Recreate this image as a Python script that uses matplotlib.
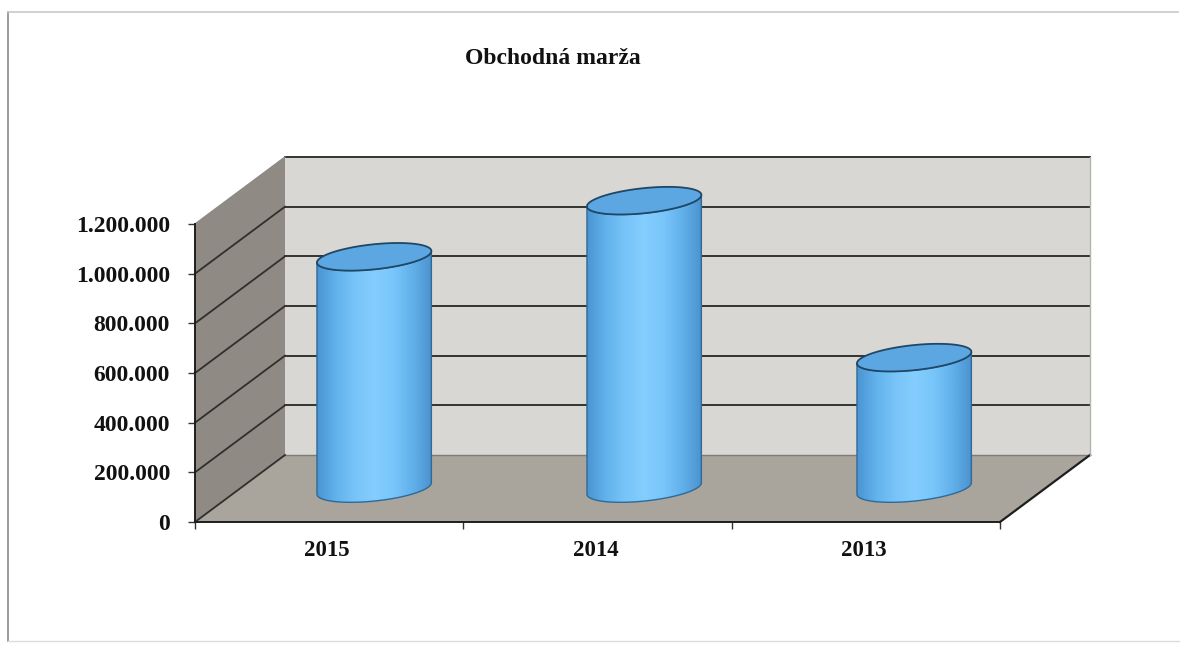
import numpy as np
import matplotlib
matplotlib.use("Agg")
import matplotlib.pyplot as plt
from matplotlib.patches import Polygon
from matplotlib.colors import LinearSegmentedColormap
from matplotlib.transforms import ScaledTranslation

categories = ["2015", "2014", "2013"]
values = [933000, 1159000, 527000]
tick_values = [0, 200000, 400000, 600000, 800000, 1000000, 1200000]
tick_labels = ["0", "200.000", "400.000", "600.000", "800.000", "1.000.000", "1.200.000"]
title = "Obchodná marža"

plt.rcParams["font.family"] = ["Liberation Serif", "DejaVu Serif"]
plt.rcParams["font.weight"] = "bold"

W, H = 1180, 645
fig = plt.figure(figsize=(W / 100, H / 100), dpi=100, facecolor="white")
ax = fig.add_axes([195 / W, (H - 522) / H, 805 / W, 298 / H])
ax.set_xlim(-0.5, 2.5)
ax.set_ylim(0, 1200000)
ax.patch.set_visible(False)

# pixel -> data scales
sx = 3 / 805
sy = 1200000 / 298
dx = 90 * sx
dy = 67 * sy
x0, x1 = -0.5, 2.5
ymax = tick_values[-1]

# page frame of the scan: dark left edge, faint top and bottom edges
fig.add_artist(plt.Line2D([8 / W, 8 / W], [(H - 641) / H, (H - 12) / H], color="#8a8a8a", lw=1.2))
fig.add_artist(plt.Line2D([8 / W, 1 - 2 / W], [(H - 12) / H, (H - 12) / H], color="#c8c8c8", lw=1.2))
fig.add_artist(plt.Line2D([8 / W, 1], [(H - 641) / H, (H - 641) / H], color="#dcdcdc", lw=1.0))

# walls
wall = "#d9d7d3"
side = "#8f8b84"
floor = "#a9a59d"
ax.add_patch(Polygon([(x0 + dx, dy), (x1 + dx, dy), (x1 + dx, ymax + dy), (x0 + dx, ymax + dy)],
                     fc=wall, ec="none", clip_on=False, zorder=1))
ax.add_patch(Polygon([(x0, 0), (x0 + dx, dy), (x0 + dx, ymax + dy), (x0, ymax)],
                     fc=side, ec="none", clip_on=False, zorder=1))
ax.add_patch(Polygon([(x0, 0), (x1, 0), (x1 + dx, dy), (x0 + dx, dy)],
                     fc=floor, ec="none", clip_on=False, zorder=1))

# gridlines
for tv in tick_values:
    top = tv == ymax
    ax.plot([x0 + dx, x1 + dx], [tv + dy, tv + dy], color="#7d7b76" if tv == 0 else "#33332f",
            lw=1.0 if tv == 0 else 1.4, clip_on=False, zorder=2)
    ax.plot([x0, x0 + dx], [tv, tv + dy], color="#8d8a84" if top else "#2f2f2c",
            lw=1.0 if top else 1.3, clip_on=False, zorder=2)
ax.plot([x1, x1 + dx], [0, dy], color="#1e1e1c", lw=1.6, clip_on=False, zorder=2)
ax.plot([x1 + dx, x1 + dx], [dy, ymax + dy], color="#b5b3ae", lw=1.0, clip_on=False, zorder=2)

# cylinders
a, b, th = 57.5, 12.5, np.radians(6)
spacing = 270 * sx
cmap = LinearSegmentedColormap.from_list(
    "cyl", ["#4a94d2", "#62b2ec", "#78c4f8", "#84cdff", "#78c6fa", "#62b0ea", "#4a92cf"])
t = np.linspace(0, 2 * np.pi, 241)


def ell(cx, cy, tt):
    ex = a * np.cos(tt) * np.cos(th) - b * np.sin(tt) * np.sin(th)
    ey = a * np.cos(tt) * np.sin(th) + b * np.sin(tt) * np.cos(th)
    return np.column_stack([cx + ex * sx, cy + ey * sy])


# angles of the leftmost / rightmost points of the tilted ellipse
tr = np.arctan2(-b * np.sin(th), a * np.cos(th))
lower = np.linspace(tr, tr - np.pi, 120)
ext = np.sqrt((a * np.cos(th)) ** 2 + (b * np.sin(th)) ** 2) * sx
for i, v in enumerate(values):
    cx = i * spacing + dx / 2
    base = dy / 2
    top = base + v
    body = np.vstack([ell(cx, top, lower), ell(cx, base, lower[::-1])])
    patch = Polygon(body, closed=True, fc="none", ec="#2f6a96", lw=1.0, clip_on=False, zorder=5)
    ax.add_patch(patch)
    im = ax.imshow(np.linspace(0, 1, 256).reshape(1, -1), cmap=cmap, aspect="auto", zorder=4,
                   extent=[cx - ext, cx + ext, base - 40 * sy, top + 40 * sy])
    im.set_clip_box(fig.bbox)
    im.set_clip_path(patch.get_path(), patch.get_transform())
    ax.add_patch(Polygon(ell(cx, top, t), closed=True, fc="#5ca7e2", ec="#1f4766", lw=1.3,
                         clip_on=False, zorder=6))

ax.set_xlim(-0.5, 2.5)
ax.set_ylim(0, 1200000)

# axes
for s in ("top", "right"):
    ax.spines[s].set_visible(False)
for s in ("left", "bottom"):
    ax.spines[s].set_color("#1e1e1c")
    ax.spines[s].set_linewidth(1.4)
    ax.spines[s].set_zorder(3)
ax.set_yticks(tick_values, tick_labels)
ax.set_xticks(range(len(categories)), categories)
ax.set_xticks([-0.5, 0.5, 1.5, 2.5], minor=True)
ax.tick_params(axis="x", which="major", length=0, pad=13, labelsize=16.5)
ax.tick_params(axis="x", which="minor", length=5, width=1, color="#333333")
ax.tick_params(axis="y", length=5, width=1, color="#333333", pad=13, labelsize=17)
shift = ScaledTranslation(-2 / 100, 0, fig.dpi_scale_trans)
for lab in ax.get_xticklabels():
    lab.set_transform(lab.get_transform() + shift)
for lab in ax.get_xticklabels() + ax.get_yticklabels():
    lab.set_color("#111111")
    lab.set_fontweight("bold")

fig.text(552.5 / W, (H - 59) / H, title, ha="center", va="center", fontsize=17,
         fontweight="bold", color="#111111")

fig.savefig("out.png", dpi=100)
